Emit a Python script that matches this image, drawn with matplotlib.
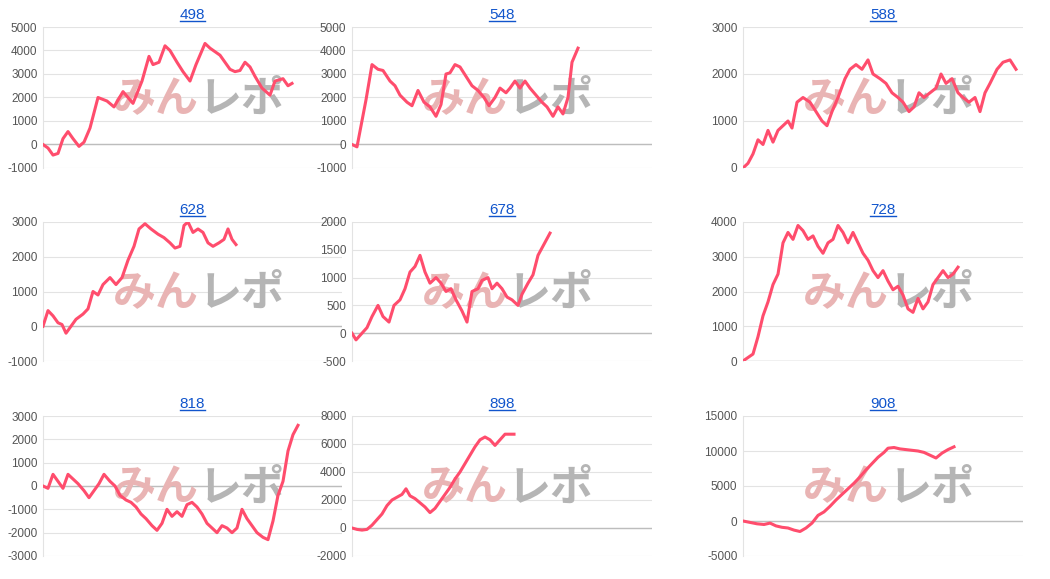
import matplotlib.pyplot as plt

plt.rcParams['font.family'] = ['Liberation Sans', 'DejaVu Sans']
plt.rcParams['axes.unicode_minus'] = False

# panel titles, y ranges and tick step
titles = ['498', '548', '588', '628', '678', '728', '818', '898', '908']
ylims = [(-1000, 5000), (-1000, 5000), (0, 3000), (-1000, 3000), (-500, 2000),
         (0, 4000), (-3000, 3000), (-2000, 8000), (-5000, 15000)]
ysteps = [1000, 1000, 1000, 1000, 500, 1000, 1000, 2000, 5000]

# x = time offset (axis spans 0..300), y = cumulative value
x498 = [0, 5, 10, 15, 20, 25, 30, 36, 41, 47, 55, 64, 71, 80, 90, 99, 106, 110, 116, 122, 127, 134, 140, 147,
        153, 162, 167, 177, 187, 192, 197, 202, 207, 212, 219, 227, 232, 240, 245, 249]
y498 = [0, -150, -450, -380, 250, 550, 250, -80, 100, 700, 2000, 1850, 1600, 2250, 1750, 2700, 3750, 3400, 3500,
        4200, 4000, 3500, 3100, 2700, 3400, 4300, 4100, 3800, 3200, 3100, 3150, 3500, 3300, 2900, 2400, 2100, 2700,
        2800, 2500, 2600]
x548 = [0, 5, 14, 20, 26, 31, 38, 43, 48, 55, 60, 66, 72, 78, 84, 89, 94, 98, 103, 108, 114, 120, 126, 132, 137,
        143, 148, 154, 158, 163, 168, 173, 178, 184, 190, 195, 201, 206, 211, 216, 220, 226]
y548 = [0, -100, 1900, 3400, 3200, 3150, 2700, 2500, 2100, 1800, 1650, 2300, 1800, 1600, 1200, 1700, 3000, 3050,
        3400, 3300, 2900, 2500, 2300, 2000, 1650, 2000, 2400, 2200, 2400, 2700, 2400, 2700, 2400, 2100, 1800, 1600,
        1200, 1600, 1300, 2000, 3500, 4100]
x588 = [0, 5, 10, 15, 20, 25, 30, 35, 40, 45, 49, 54, 60, 67, 73, 79, 84, 89, 95, 102, 107, 113, 119, 125, 130,
        137, 143, 149, 155, 160, 166, 171, 176, 181, 187, 193, 198, 203, 209, 215, 220, 226, 232, 237, 242, 247,
        254, 260, 267, 273]
y588 = [0, 100, 300, 600, 500, 800, 550, 800, 900, 1000, 850, 1400, 1500, 1400, 1200, 1000, 900, 1200, 1500, 1900,
        2100, 2200, 2100, 2300, 2000, 1900, 1800, 1600, 1500, 1400, 1200, 1300, 1600, 1500, 1600, 1700, 2000, 1800,
        1900, 1600, 1500, 1400, 1500, 1200, 1600, 1800, 2100, 2250, 2300, 2100]
x628 = [0, 5, 10, 15, 19, 23, 28, 33, 40, 45, 50, 55, 60, 67, 73, 79, 85, 91, 96, 102, 108, 115, 121, 127, 132,
        137, 141, 145, 150, 155, 160, 165, 170, 176, 181, 185, 189, 193]
y628 = [0, 450, 300, 100, 50, -200, 0, 200, 350, 500, 1000, 900, 1200, 1400, 1200, 1400, 1900, 2300, 2800, 2950,
        2800, 2650, 2550, 2400, 2250, 2300, 2900, 3000, 2700, 2800, 2700, 2400, 2300, 2400, 2500, 2800, 2500, 2350]
x678 = [0, 4, 10, 15, 20, 26, 31, 37, 42, 48, 53, 58, 63, 68, 73, 78, 84, 89, 94, 99, 104, 110, 115, 120, 126,
        130, 136, 140, 145, 150, 155, 160, 166, 170, 176, 181, 186, 192, 198]
y678 = [0, -120, 0, 100, 300, 500, 300, 200, 500, 600, 800, 1100, 1200, 1400, 1100, 900, 1000, 900, 750, 800, 600,
        400, 200, 750, 800, 950, 1000, 800, 900, 800, 650, 600, 500, 700, 900, 1050, 1400, 1600, 1800]
x728 = [0, 5, 10, 15, 20, 25, 30, 35, 40, 45, 50, 55, 60, 65, 70, 75, 80, 85, 90, 95, 100, 105, 110, 115, 120,
        125, 130, 135, 140, 145, 150, 155, 160, 165, 170, 175, 180, 185, 190, 195, 200, 205, 210, 215]
y728 = [0, 100, 200, 700, 1300, 1700, 2200, 2500, 3400, 3700, 3500, 3900, 3750, 3500, 3600, 3300, 3100, 3400, 3500,
        3900, 3700, 3400, 3700, 3400, 3100, 2900, 2600, 2400, 2600, 2300, 2050, 2150, 1900, 1500, 1400, 1800, 1500,
        1700, 2200, 2400, 2600, 2400, 2500, 2700]
x818 = [0, 5, 10, 15, 20, 25, 30, 35, 41, 46, 51, 56, 61, 67, 72, 77, 83, 88, 93, 98, 103, 109, 114, 119, 124,
        129, 134, 139, 144, 149, 154, 159, 164, 169, 174, 179, 184, 189, 194, 199, 204, 209, 214, 220, 225, 230,
        235, 240, 245, 250, 255]
y818 = [0, -100, 500, 200, -100, 500, 300, 100, -200, -500, -200, 100, 500, 200, 0, -400, -600, -700, -900, -1200,
        -1400, -1700, -1900, -1600, -1000, -1300, -1100, -1300, -800, -700, -900, -1200, -1600, -1800, -2000, -1700,
        -1800, -2000, -1800, -1000, -1400, -1700, -2000, -2200, -2300, -1500, -400, 200, 1500, 2200, 2600]
x898 = [0, 5, 10, 15, 20, 25, 30, 35, 40, 45, 50, 54, 58, 63, 68, 73, 78, 83, 88, 93, 98, 103, 108, 113, 118, 123,
        128, 133, 138, 143, 148, 153, 158, 162]
y898 = [0, -100, -150, -100, 200, 600, 1000, 1600, 2000, 2200, 2400, 2800, 2300, 2100, 1800, 1500, 1100, 1400,
        1900, 2400, 2900, 3500, 4000, 4600, 5200, 5800, 6300, 6500, 6300, 5900, 6300, 6700, 6700, 6700]
x908 = [0, 7, 14, 21, 27, 33, 39, 45, 51, 57, 63, 69, 75, 81, 87, 93, 99, 105, 111, 117, 123, 129, 135, 141, 145,
        151, 157, 163, 169, 175, 181, 187, 193, 199, 205, 211]
y908 = [0, -200, -400, -500, -300, -700, -900, -1000, -1300, -1500, -1000, -300, 800, 1300, 2100, 3000, 3800, 4600,
        5400, 6300, 7300, 8200, 9100, 9800, 10400, 10500, 10300, 10200, 10100, 10000, 9800, 9400, 9000, 9700, 10200,
        10600]

series = [(x498, y498), (x548, y548), (x588, y588), (x628, y628), (x678, y678),
          (x728, y728), (x818, y818), (x898, y898), (x908, y908)]

W, H = 1050, 579
fig = plt.figure(figsize=(W / 100, H / 100), dpi=100)
lefts = [43, 352, 743]
widths = [299, 300, 280]
tops = [27, 222, 416]
bottoms = [168, 361, 556]

for i in range(9):
    r, c = divmod(i, 3)
    ax = fig.add_axes([lefts[c] / W, 1 - bottoms[r] / H, widths[c] / W, (bottoms[r] - tops[r]) / H])
    lo, hi = ylims[i]
    ax.set_ylim(lo, hi)
    ax.set_xlim(0, widths[c])
    ax.set_yticks(range(lo, hi + 1, ysteps[i]))
    ax.set_xticks([])
    ax.grid(axis='y', color='#e3e3e3', lw=0.8)
    ax.set_axisbelow(True)
    for s in ['top', 'right', 'bottom']:
        ax.spines[s].set_visible(False)
    ax.spines['left'].set_color('#e3e3e3')
    ax.axhline(0, color='#bdbdbd', lw=1, zorder=1)
    ax.tick_params(axis='y', length=0, labelsize=8.5, labelcolor='#555555', pad=4)
    # watermark
    ax.text(0.52, 0.49, 'みん', transform=ax.transAxes, ha='right', va='center', fontsize=31,
            fontweight='bold', style='italic', color='#e9b4b4', family=['Noto Sans CJK JP'], zorder=2)
    ax.text(0.52, 0.49, 'レポ', transform=ax.transAxes, ha='left', va='center', fontsize=31,
            fontweight='bold', style='italic', color='#b5b5b5', family=['Noto Sans CJK JP'], zorder=2)
    xs, ys = series[i]
    ax.plot(xs, ys, color='#ff4d6d', lw=2.2, zorder=3, solid_joinstyle='round')
    ax.set_title(titles[i], color='#1155cc', fontsize=11, pad=6)

# underline the titles
fig.canvas.draw()
for ax in fig.axes:
    bb = ax.title.get_window_extent()
    x0, x1 = bb.x0 / W, bb.x1 / W
    yb = bb.y0 / H + 0.002
    fig.add_artist(plt.Line2D([x0, x1], [yb, yb], color='#1155cc', lw=1))

fig.savefig('out.png', dpi=100)
